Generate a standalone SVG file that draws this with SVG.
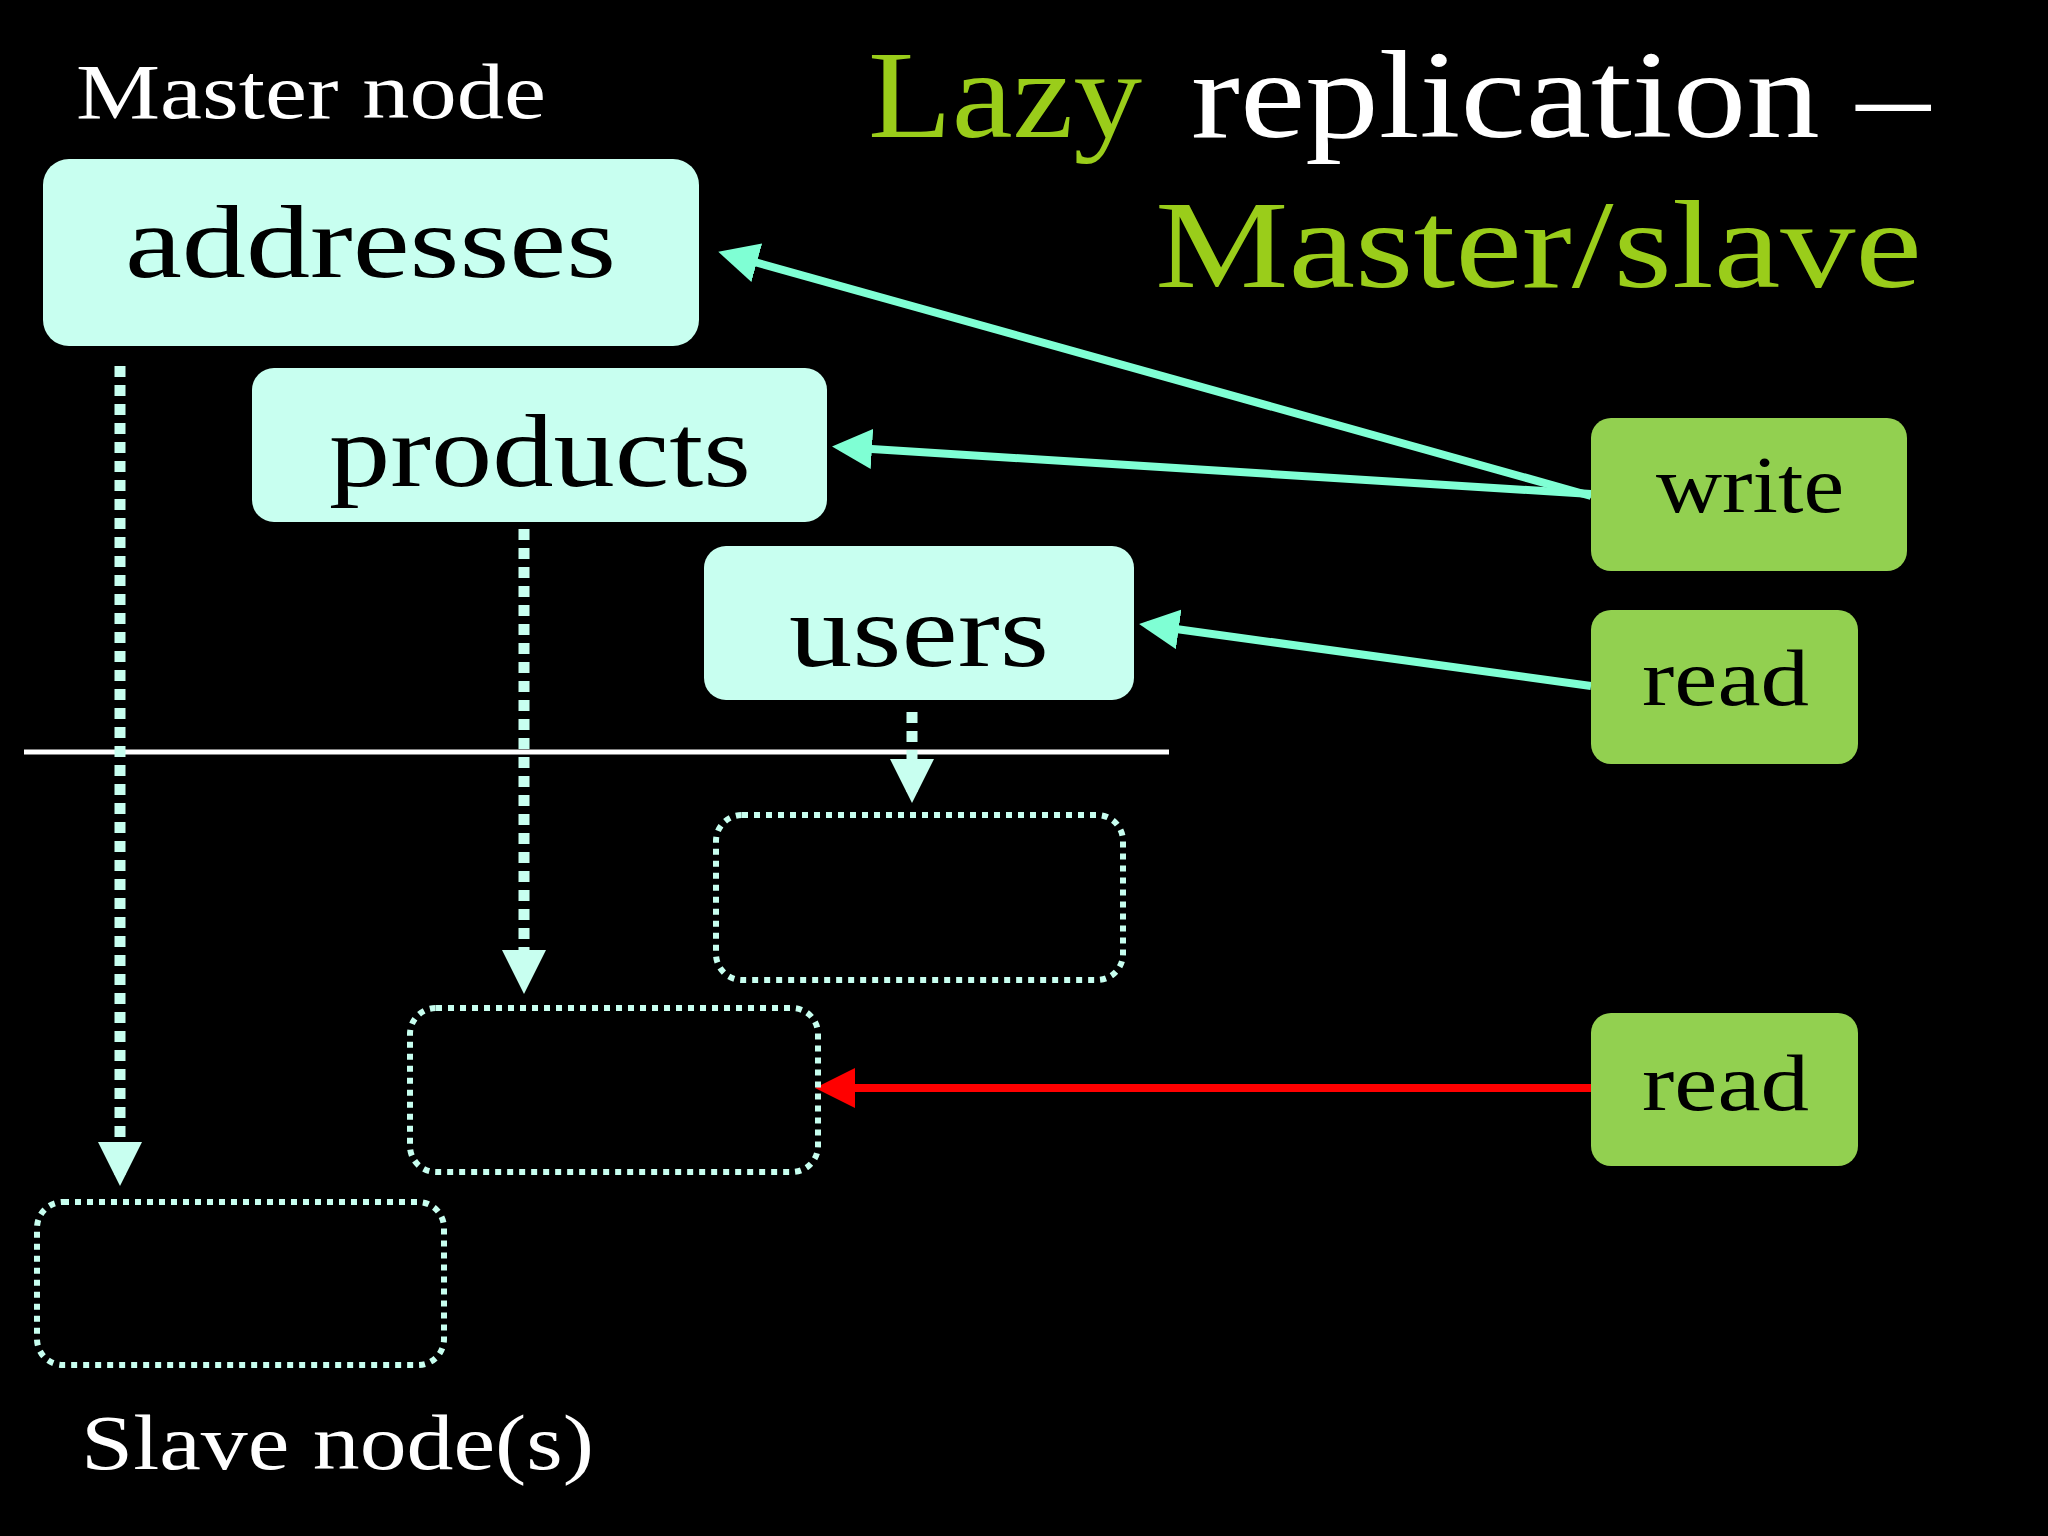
<svg xmlns="http://www.w3.org/2000/svg" width="2048" height="1536" viewBox="0 0 2048 1536">
<defs>
<style>
text{font-family:"Liberation Serif","DejaVu Serif",serif}
.m{fill:#c8fff0}
.g{fill:#92d050}
.d{fill:none;stroke:#c8fff0;stroke-width:6;stroke-dasharray:6 6}
.bt{font-size:104px;fill:#000}
.gt{font-size:80px;fill:#000}
.ca{stroke:#7fffd4;stroke-width:8;fill:none;marker-end:url(#ac)}
.da{stroke:#c8fff0;stroke-width:11;stroke-dasharray:11 8;fill:none;marker-end:url(#ad)}
</style>
<marker id="ac" markerWidth="5" markerHeight="5" refX="4" refY="2.5" orient="auto"><path d="M0,0L5,2.5L0,5z" fill="#7fffd4"/></marker>
<marker id="ar" markerWidth="5" markerHeight="5" refX="4" refY="2.5" orient="auto"><path d="M0,0L5,2.5L0,5z" fill="#ff0000"/></marker>
<marker id="ad" markerWidth="4" markerHeight="4" refX="3" refY="2" orient="auto"><path d="M0,0L4,2L0,4z" fill="#c8fff0"/></marker>
</defs>
<rect width="2048" height="1536" fill="#000"/>
<text x="868" y="137" font-size="124" fill="#9acd1a" textLength="274" lengthAdjust="spacingAndGlyphs">Lazy</text>
<text x="1191" y="137" font-size="124" fill="#fff" textLength="739" lengthAdjust="spacingAndGlyphs">replication –</text>
<text x="1155" y="287" font-size="124" fill="#9acd1a" textLength="767" lengthAdjust="spacingAndGlyphs">Master/slave</text>
<text x="76" y="118" font-size="78" fill="#fff" textLength="470" lengthAdjust="spacingAndGlyphs">Master node</text>
<text x="81" y="1469" font-size="78" fill="#fff" textLength="513" lengthAdjust="spacingAndGlyphs">Slave node(s)</text>
<line x1="24" y1="752" x2="1169" y2="752" stroke="#fff" stroke-width="5"/>
<g id="connectors">
<path class="da" d="M120,366V1175"/>
<path class="da" d="M524,529V983"/>
<path class="da" d="M912,712V792"/>
<path class="ca" d="M1591,496L726,254"/>
<path class="ca" d="M1591,494L840,447"/>
<path class="ca" d="M1591,686L1147,625"/>
<path d="M1591,1088H823" stroke="#ff0000" stroke-width="8" marker-end="url(#ar)"/>
</g>
<g id="addresses"><rect class="m" x="43" y="159" width="656" height="187" rx="26"/><text class="bt" x="125" y="277" textLength="491" lengthAdjust="spacingAndGlyphs">addresses</text></g>
<g id="products"><rect class="m" x="252" y="368" width="575" height="154" rx="22"/><text class="bt" x="329" y="486" textLength="422" lengthAdjust="spacingAndGlyphs">products</text></g>
<g id="users"><rect class="m" x="704" y="546" width="430" height="154" rx="22"/><text class="bt" x="789" y="666" textLength="260" lengthAdjust="spacingAndGlyphs">users</text></g>
<g id="write"><rect class="g" x="1591" y="418" width="316" height="153" rx="20"/><text class="gt" x="1656" y="512" textLength="188" lengthAdjust="spacingAndGlyphs">write</text></g>
<g id="read1"><rect class="g" x="1591" y="610" width="267" height="154" rx="20"/><text class="gt" x="1642" y="705" textLength="167" lengthAdjust="spacingAndGlyphs">read</text></g>
<g id="read2"><rect class="g" x="1591" y="1013" width="267" height="153" rx="20"/><text class="gt" x="1642" y="1110" textLength="167" lengthAdjust="spacingAndGlyphs">read</text></g>
<g id="slave-users"><rect class="d" x="716" y="815" width="407" height="165" rx="26"/></g>
<g id="slave-products"><rect class="d" x="410" y="1008" width="408" height="164" rx="26"/></g>
<g id="slave-addresses"><rect class="d" x="37" y="1202" width="407" height="163" rx="26"/></g>
</svg>
